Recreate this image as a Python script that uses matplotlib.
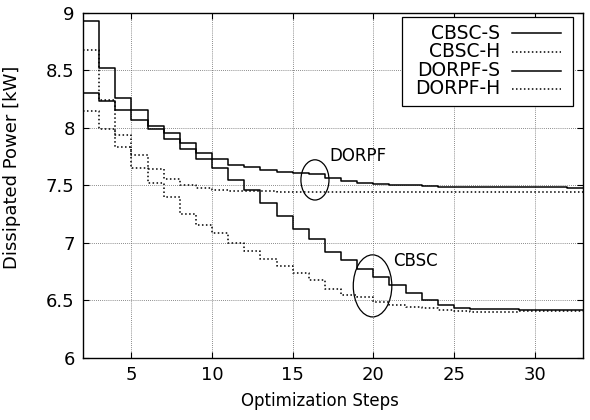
import matplotlib
matplotlib.use('Agg')
import matplotlib.pyplot as plt
from matplotlib.patches import Ellipse, Rectangle
import numpy as np

# optimization steps (x) and dissipated power per step [kW]
steps = list(range(2, 34))

cbsc_s = [8.93, 8.52, 8.26, 8.07, 7.99, 7.90, 7.82, 7.73, 7.65, 7.55,
          7.46, 7.35, 7.23, 7.125, 7.03, 6.92, 6.85, 6.775, 6.70, 6.63,
          6.565, 6.50, 6.46, 6.435, 6.425, 6.425, 6.425, 6.413, 6.413, 6.413,
          6.413, 6.413]
cbsc_h = [8.68, 8.24, 7.83, 7.65, 7.525, 7.40, 7.255, 7.155, 7.085, 7.00,
          6.93, 6.86, 6.80, 6.735, 6.675, 6.60, 6.55, 6.525, 6.49, 6.46,
          6.445, 6.43, 6.42, 6.405, 6.40, 6.40, 6.40, 6.405, 6.405, 6.405,
          6.405, 6.405]
dorpf_s = [8.30, 8.235, 8.16, 8.155, 8.02, 7.955, 7.87, 7.78, 7.73, 7.68,
           7.657, 7.63, 7.613, 7.605, 7.60, 7.565, 7.535, 7.52, 7.51, 7.50,
           7.50, 7.495, 7.49, 7.49, 7.487, 7.487, 7.485, 7.485, 7.485, 7.485,
           7.475, 7.475]
dorpf_h = [8.15, 7.99, 7.94, 7.765, 7.64, 7.555, 7.503, 7.474, 7.456, 7.452,
           7.45, 7.448, 7.447, 7.446, 7.445, 7.444, 7.444, 7.443, 7.443, 7.442,
           7.442, 7.442, 7.441, 7.441, 7.441, 7.44, 7.44, 7.44, 7.44, 7.44,
           7.44, 7.44]

series_names = ['CBSC-S', 'CBSC-H', 'DORPF-S', 'DORPF-H']
x_ticks = [5, 10, 15, 20, 25, 30]
y_ticks = [6, 6.5, 7, 7.5, 8, 8.5, 9]

plt.rcParams['font.family'] = ['DejaVu Sans']

solid = '-'
dotted = (0, (1, 1.6))
styles = [solid, dotted, solid, dotted]

fig = plt.figure(figsize=(5.9, 4.2), dpi=100)
ax = fig.add_axes([0.1407, 0.148, 0.8475, 0.821])

for ys, ls in zip([cbsc_s, cbsc_h, dorpf_s, dorpf_h], styles):
    ax.plot(steps, ys, drawstyle='steps-post', color='black',
            linestyle=ls, linewidth=1.1)

ax.set_xlim(2, 33)
ax.set_ylim(6, 9)
ax.set_xticks(x_ticks)
ax.set_yticks(y_ticks)
ax.set_yticklabels(['%g' % v for v in y_ticks])
ax.tick_params(direction='in', top=True, right=True, length=4,
               labelsize=13, width=0.8, pad=6)
ax.grid(True, color='#666666', linestyle=(0, (1, 1.5)), linewidth=0.6)
for s in ax.spines.values():
    s.set_linewidth(1.0)

# gnuplot puts the axis labels a bit off-centre
ax.set_xlabel('Optimization Steps', fontsize=12)
ax.xaxis.set_label_coords(0.474, -0.1)
ax.set_ylabel('Dissipated Power [kW]', fontsize=13)
ax.yaxis.set_label_coords(-0.124, 0.551)

# annotation ellipses
ax.add_patch(Ellipse((16.38, 7.548), 1.74, 0.35, fill=False,
                     edgecolor='black', linewidth=0.9))
ax.text(17.25, 7.76, 'DORPF', fontsize=12, va='center', ha='left')
ax.add_patch(Ellipse((19.95, 6.626), 2.39, 0.54, fill=False,
                     edgecolor='black', linewidth=0.9))
ax.text(21.2, 6.843, 'CBSC', fontsize=12, va='center', ha='left')

# gnuplot-style key: right-aligned text, sample line on the right
ax.add_patch(Rectangle((0.638, 0.730), 0.342, 0.258, transform=ax.transAxes,
                       facecolor='white', edgecolor='black', linewidth=0.9,
                       zorder=5))
rows = [0.942, 0.887, 0.832, 0.780]
for name, ls, yr in zip(series_names, styles, rows):
    ax.text(0.834, yr, name, transform=ax.transAxes, ha='right',
            va='center', fontsize=13.5, zorder=6)
    ax.plot([0.858, 0.956], [yr, yr], transform=ax.transAxes, color='black',
            linestyle=ls, linewidth=1.1, zorder=6)

fig.savefig('out.png', dpi=100)
